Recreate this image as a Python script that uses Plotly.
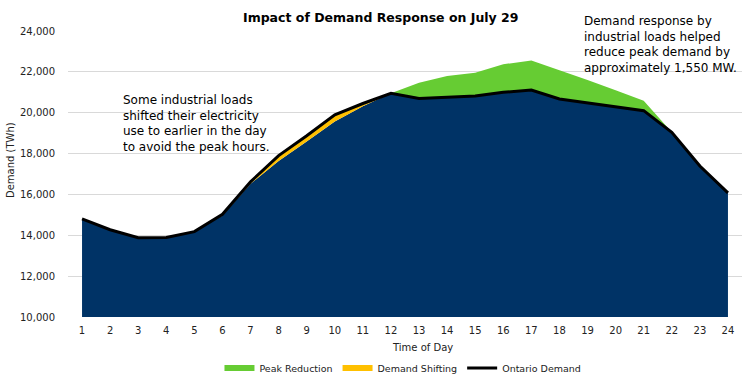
import plotly.graph_objects as go

hours = list(range(1, 25))
ontario_demand = [14800, 14270, 13880, 13890, 14180, 15030, 16620, 17900, 18870, 19900, 20450, 20950,
                  20700, 20750, 20820, 21000, 21110, 20670, 20490, 20290, 20100, 19040, 17390, 16080]
demand_shifting = [0, 0, 0, 0, 0, 60, 100, 260, 280, 330, 130, 0,
                   0, 0, 0, 0, 0, 0, 0, 0, 0, 0, 0, 0]
peak_reduction = [0, 0, 0, 0, 0, 0, 0, 0, 0, 0, 0, 0,
                  770, 1050, 1140, 1370, 1450, 1410, 1110, 810, 490, 0, 0, 0]
y_ticks = [10000, 12000, 14000, 16000, 18000, 20000, 22000, 24000]

NAVY = "#003366"
GREEN = "#66CC33"
YELLOW = "#FFC000"
FONT = "DejaVu Sans"

base = [o - s for o, s in zip(ontario_demand, demand_shifting)]

fig = go.Figure()
fig.add_trace(go.Scatter(x=hours, y=base, stackgroup="a", mode="none", fillcolor=NAVY,
                         showlegend=False, name="Base", hoverinfo="skip"))
fig.add_trace(go.Scatter(x=hours, y=demand_shifting, stackgroup="a", mode="none", fillcolor=YELLOW,
                         name="Demand Shifting", legendrank=2))
fig.add_trace(go.Scatter(x=hours, y=peak_reduction, stackgroup="a", mode="none", fillcolor=GREEN,
                         name="Peak Reduction", legendrank=1))
fig.add_trace(go.Scatter(x=hours, y=ontario_demand, mode="lines", line=dict(color="black", width=3),
                         name="Ontario Demand", legendrank=3))

fig.update_layout(
    width=750, height=384,
    margin=dict(l=68, r=8, t=31, b=67, autoexpand=False),
    paper_bgcolor="white", plot_bgcolor="white",
    font=dict(family=FONT, size=10, color="#222222"),
    legend=dict(orientation="h", x=0.497, xanchor="center", xref="paper", y=-0.178, yanchor="middle",
                font=dict(family=FONT, size=9.5, color="#222222"), traceorder="normal",
                itemwidth=30, bgcolor="rgba(0,0,0,0)"),
    showlegend=True,
)
fig.update_xaxes(range=[0.5, 24.5], tickvals=hours, ticktext=[str(h) for h in hours],
                 showgrid=False, zeroline=False, showline=False, ticks="", ticklabelstandoff=6)
fig.update_yaxes(range=[10000, 24000], tickvals=y_ticks, tickformat=",", showgrid=True,
                 gridcolor="#D9D9D9", gridwidth=1, zeroline=False, showline=False, ticks="",
                 ticklabelstandoff=12, automargin=False)

def py(px):
    return (317 - px) / 286

def pxx(px):
    return (px - 68) / 674

fig.add_annotation(xref="paper", yref="paper", x=pxx(381), y=py(17), xanchor="center", yanchor="middle",
                   showarrow=False, text="<b>Impact of Demand Response on July 29</b>",
                   font=dict(family=FONT, size=12.5, color="black"))
ann_font = dict(family=FONT, size=12, color="black")
fig.add_annotation(xref="paper", yref="paper", x=pxx(121), y=py(91),
                   xanchor="left", yanchor="top", align="left", showarrow=False, font=ann_font,
                   text="Some industrial loads<br>shifted their electricity<br>use to earlier in the day<br>to avoid the peak hours.")
fig.add_annotation(xref="paper", yref="paper", x=pxx(582), y=py(12),
                   xanchor="left", yanchor="top", align="left", showarrow=False, font=ann_font,
                   text="Demand response by<br>industrial loads helped<br>reduce peak demand by<br>approximately 1,550 MW.")
fig.add_annotation(xref="paper", yref="paper", x=pxx(422), y=py(347),
                   xanchor="center", yanchor="middle", showarrow=False,
                   font=dict(family=FONT, size=10, color="#222222"), text="Time of Day")
fig.add_annotation(xref="paper", yref="paper", x=pxx(10), y=py(160),
                   xanchor="center", yanchor="middle", showarrow=False, textangle=-90,
                   font=dict(family=FONT, size=10, color="#222222"), text="Demand (TWh)")

fig.write_html("out.html", config={"displayModeBar": False},
               post_script="document.body.style.margin='0';")
